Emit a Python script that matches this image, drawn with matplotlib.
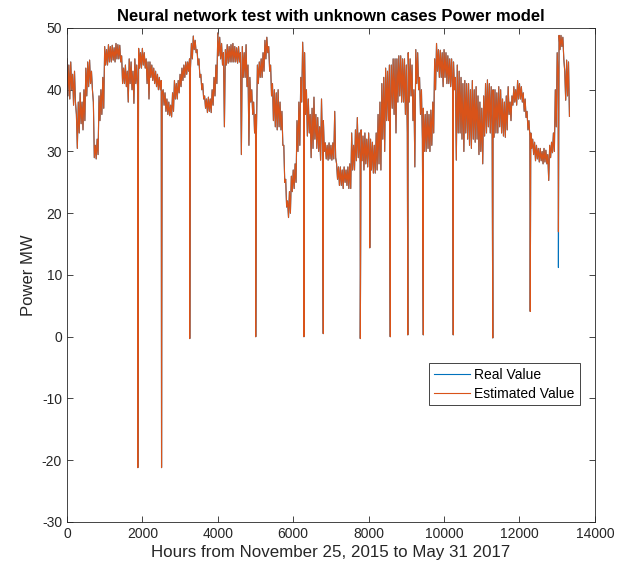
import numpy as np
import matplotlib
matplotlib.use('Agg')
import matplotlib.pyplot as plt

plt.rcParams['font.family'] = ['Liberation Sans', 'DejaVu Sans']
plt.rcParams['axes.unicode_minus'] = False

# power in 50-hour windows: upper and lower edge of the noisy band
window_start = list(range(0, 13301, 50))
band_top = [
    45, 44, 44.5, 42.5, 43, 36, 38, 39.5, 38, 40, 43.5, 44.5, 44.8, 43, 38, 31, 32, 39, 40, 42,
    47, 46.5, 47.3, 47, 47.2, 46.8, 47.5, 47.3, 47.2, 45.5, 43.5, 44, 43, 45, 44.5, 43, 45, 44, 46.7, 46,
    46.7, 46, 45, 44.5, 44.5, 44, 43.5, 43, 42.5, 42, 41.5, 40, 39.5, 38.5, 38, 37.5, 39.5, 41.5, 41, 41.5,
    42.5, 43.5, 44, 44.5, 44.5, 45, 47.5, 48.7, 48, 46.5, 45, 42.5, 41, 39, 38.5, 38.8, 38.5, 40, 42, 44,
    49.2, 48.5, 47.5, 46, 46.5, 47.3, 47, 47.3, 47.5, 47, 46.8, 47, 46, 47, 46, 47.3, 44, 42, 40, 38,
    36, 44, 44.5, 45, 46, 48, 48.5, 47, 44, 41, 40, 39.5, 40, 38, 36.5, 31, 25.5, 22, 23.5, 26,
    27, 28, 35, 38, 42, 47.7, 46, 40, 38.5, 36, 37, 38.8, 36, 35.5, 34, 38.5, 35, 31.4, 31, 31.4,
    31, 31.4, 36.5, 28, 27.5, 27.5, 27, 27.5, 27, 27.5, 28, 33, 31, 33.5, 35.5, 33, 33.5, 32.5, 33, 32,
    33, 32, 31.5, 31, 33, 36, 38, 41, 42, 43.5, 43, 44, 44, 45, 45, 45, 45.5, 45.5, 45, 45,
    44, 46, 45, 44, 40, 46.5, 46, 42, 40, 37, 36, 36.5, 36, 36.7, 38, 45, 47.5, 46.5, 46.4, 46,
    46.5, 46, 45.5, 45, 45, 44.5, 42, 44, 43, 42, 41, 41.5, 41, 41, 40, 41.5, 40, 40.5, 39, 38,
    37, 39, 41, 41.6, 41, 40.5, 40, 40, 39.5, 40.5, 40, 38.5, 38, 39, 40.5, 38, 39, 40.5, 40, 41.5,
    41, 40.5, 39.5, 38.5, 36.5, 35, 33, 32, 31.5, 31, 30.5, 30.5, 30, 30.5, 30.2, 29.5, 31, 31.5, 33, 40,
    46, 48.8, 48.8, 48.5, 43, 44.8, 44.5,
]
band_low = [
    39, 38.5, 40, 37.5, 38, 30.5, 33, 34.5, 33.5, 35, 39, 40.5, 41, 40, 29, 28.8, 29.5, 35, 36, 37,
    44, 44, 44.5, 44.5, 44.8, 44.5, 45, 45, 44.5, 41, 41, 40.5, 38, 41, 40, 37.8, 41, 40, 43.5, 43.5,
    44, 43.5, 41, 38.5, 42, 41.5, 41, 40.5, 40, 40, 39.5, 37.5, 36.5, 36, 35.8, 35.6, 36.5, 38.5, 38.5, 39.5,
    40.5, 41.5, 42, 42.5, 43, 43.5, 45, 46.5, 46, 44, 42, 40, 38.5, 37, 36.3, 36.5, 36.3, 37.5, 39, 41,
    45.5, 45, 44, 34, 44, 44.3, 44.5, 44.5, 44.5, 44.5, 44.3, 44.5, 29.5, 42, 42, 40.5, 31, 38, 36, 33,
    33.5, 41, 42, 42, 43, 45, 46, 43, 39, 35, 34, 33.5, 34, 33.5, 31, 25, 21, 19.3, 20, 23.5,
    24, 25, 30, 31, 38, 42, 36, 32.5, 33, 29, 30.5, 32, 30.5, 30, 28.6, 31, 30, 28.8, 28.6, 28.8,
    28.6, 28.8, 29, 25.5, 24.5, 24.5, 24, 25, 24.5, 24, 24, 27, 27, 28.5, 29, 28, 28.5, 27, 28, 27.5,
    28, 27, 26.5, 26.5, 27, 28, 27, 32, 30, 35, 35, 36, 37, 36, 33, 38, 39, 38, 38, 36,
    33, 38, 39, 35, 27.5, 41, 40, 36, 32, 30, 30, 30.5, 30, 31, 33, 40, 43, 42, 42, 40.5,
    42, 41, 41, 40.5, 40.4, 40, 28.6, 33, 33, 32, 30, 33, 32, 31, 30.5, 32, 31.5, 32, 29.5, 30,
    28, 32.5, 33, 34, 33, 32.5, 32.3, 33, 33, 34, 33, 32.5, 32.3, 33.5, 36, 35, 37.5, 38, 37.5, 38.5,
    38.5, 38, 36.5, 35.5, 33.5, 32.5, 30.5, 29.5, 28.5, 28.8, 28.3, 28.5, 28, 28.3, 28, 25.3, 29, 29.8, 30, 34,
    42, 46.5, 47, 45, 38.3, 39, 35.7,
]

# single-sample drop-outs
spike_hours = [1880, 2508, 3256, 5006, 6284, 6796, 7779, 8030, 8573, 9039, 9449, 10243, 11292, 12285, 13032]
spike_real = [-21.2, -21.2, -0.3, 0, 0, 0.5, -0.3, 14.4, 0, 0.3, 0.3, 0.3, -0.2, 4.1, 11.2]
spike_est = [-21.2, -21.2, -0.3, 0, 0, 0.5, -0.3, 14.4, 0, 0.3, 0.3, 0.3, -0.2, 4.1, 17.0]

assert len(band_top) == len(window_start) == len(band_low)

# top edge at the window start, lower edge half a window later
hours = window_start + [h + 25 for h in window_start] + spike_hours
real = band_top + band_low + spike_real
est = band_top + band_low + spike_est
order = np.argsort(hours, kind='stable')
hours = np.array(hours)[order]
real = np.array(real)[order]
est = np.array(est)[order]

fig = plt.figure(figsize=(6.3, 5.76), dpi=100)
ax = fig.add_axes([0.1063, 0.0938, 0.838, 0.8576])

ax.plot(hours, real, color='#0072BD', lw=0.8, label='Real Value')
ax.plot(hours, est, color='#D95319', lw=0.8, label='Estimated Value')

ax.set_xlim(0, 14000)
ax.set_ylim(-30, 50)
ax.set_xticks(range(0, 14001, 2000))
ax.set_yticks(range(-30, 51, 10))
ax.tick_params(direction='in', top=True, right=True, labelsize=10, length=4, width=0.6, colors='#262626')
for s in ax.spines.values():
    s.set_linewidth(0.6)
    s.set_color('#262626')

ax.set_title('Neural network test with unknown cases Power model', fontsize=12, fontweight='bold', pad=5)
ax.set_xlabel('Hours from November 25, 2015 to May 31 2017', fontsize=12.2, color='#262626', labelpad=3)
ax.set_ylabel('Power MW', fontsize=12, color='#262626', labelpad=4)

leg = ax.legend(loc='upper left', bbox_to_anchor=(0.686, 0.322), fontsize=10, frameon=True,
                fancybox=False, framealpha=1, edgecolor='#262626', borderpad=0.35,
                handlelength=2.6, handletextpad=0.3, labelspacing=0.35, borderaxespad=0)
leg.get_frame().set_linewidth(0.6)

fig.savefig('out.png', dpi=100)
